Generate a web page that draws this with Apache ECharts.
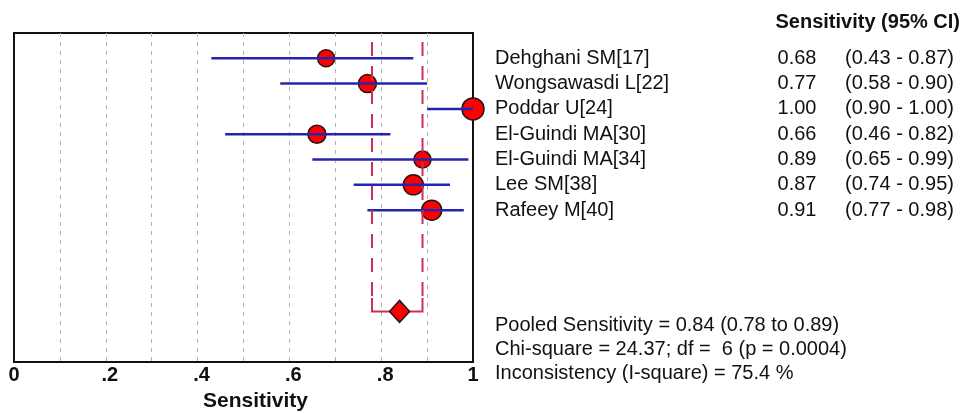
<!DOCTYPE html>
<html>
<head>
<meta charset="utf-8">
<script src="https://cdn.jsdelivr.net/npm/echarts@6/dist/echarts.min.js"></script>
<style>
  html, body { margin: 0; padding: 0; background: #ffffff; }
  #chart { width: 976px; height: 413px; }
</style>
</head>
<body>
<div id="chart"></div>
<script>
// Study-level sensitivity estimates with 95% confidence intervals
const studies = [
  'Dehghani SM[17]',
  'Wongsawasdi L[22]',
  'Poddar U[24]',
  'El-Guindi MA[30]',
  'El-Guindi MA[34]',
  'Lee SM[38]',
  'Rafeey M[40]'
];
const sensitivity = [0.68, 0.77, 1.00, 0.66, 0.89, 0.87, 0.91];
const ciLower     = [0.43, 0.58, 0.90, 0.46, 0.65, 0.74, 0.77];
const ciUpper     = [0.87, 0.90, 1.00, 0.82, 0.99, 0.95, 0.98];

// Pooled estimate and heterogeneity statistics
const pooledSensitivity = 0.84;
const pooledLower = 0.78;
const pooledUpper = 0.89;
const chiSquare = '24.37';
const degreesOfFreedom = 6;
const pValue = '0.0004';
const iSquare = '75.4';

// Axis tick labels for 0, 0.2, ..., 1
const xTickLabels = ['0', '.2', '.4', '.6', '.8', '1'];

// ---- presentation ----
const FONT = "'Liberation Sans', Arial, Helvetica, sans-serif";
const INK = '#111111';
const CI_BLUE = '#2424ae';
const POOL_RED = '#cf2f55';
const POOLED_ROW = 10;
const studyMarkerPx = [17, 18, 22, 18, 17, 20, 20];

const fmt = v => v.toFixed(2);

const chart = echarts.init(document.getElementById('chart'), null, { renderer: 'canvas' });

const option = {
  animation: false,
  backgroundColor: '#ffffff',
  textStyle: { fontFamily: FONT, color: INK },
  grid: {
    left: 14, top: 33, width: 459, height: 329,
    containLabel: false,
    outerBoundsMode: 'none',
    show: true, borderColor: INK, borderWidth: 2, backgroundColor: 'transparent'
  },
  xAxis: {
    type: 'value', min: 0, max: 1, interval: 0.1,
    axisLine: { show: false },
    axisTick: { show: false },
    splitLine: {
      show: true, showMinLine: false, showMaxLine: false,
      lineStyle: { color: '#b4b4b4', width: 1, type: [4, 5] }
    },
    axisLabel: {
      margin: 3,
      fontFamily: FONT, fontSize: 20, fontWeight: 'bold', color: INK,
      formatter: function (v) {
        const k = Math.round(v * 10);
        if (k % 2 !== 0) return '';
        const t = xTickLabels[k / 2];
        return t.charAt(0) === '.' ? '{d|' + t + '}' : t;
      },
      rich: {
        d: { fontFamily: FONT, fontSize: 20, fontWeight: 'bold', color: INK, padding: [0, 0, 0, 8] }
      }
    },
    name: 'Sensitivity',
    nameLocation: 'middle',
    nameGap: 29,
    nameTextStyle: { fontFamily: FONT, fontSize: 21, fontWeight: 'bold', color: INK, padding: [0, 0, 0, 24] }
  },
  yAxis: {
    type: 'value', min: -1, max: 12, interval: 1, inverse: true,
    position: 'right',
    axisLine: { show: false },
    axisTick: { show: false },
    splitLine: { show: false },
    axisLabel: {
      margin: 22,
      align: 'left',
      fontFamily: FONT, fontSize: 20, color: INK,
      formatter: function (v) {
        if (v < 0 || v >= studies.length) return '';
        return '{n|' + studies[v] + '}{v|' + fmt(sensitivity[v]) + '}{c|(' + fmt(ciLower[v]) + ' - ' + fmt(ciUpper[v]) + ')}';
      },
      rich: {
        n: { fontFamily: FONT, fontSize: 20, color: INK, width: 277, align: 'left' },
        v: { fontFamily: FONT, fontSize: 20, color: INK, width: 50, align: 'right' },
        c: { fontFamily: FONT, fontSize: 20, color: INK, padding: [0, 0, 0, 23] }
      }
    }
  },
  graphic: [
    {
      type: 'text', right: 16, top: 12,
      style: { text: 'Sensitivity (95% CI)', font: 'bold 20px ' + FONT, fill: INK }
    },
    {
      type: 'text', left: 495, top: 313,
      style: {
        text: [
          'Pooled Sensitivity = ' + fmt(pooledSensitivity) + ' (' + fmt(pooledLower) + ' to ' + fmt(pooledUpper) + ')',
          'Chi-square = ' + chiSquare + '; df =  ' + degreesOfFreedom + ' (p = ' + pValue + ')',
          'Inconsistency (I-square) = ' + iSquare + ' %'
        ].join('\n'),
        font: '20px ' + FONT, fill: INK, lineHeight: 24
      }
    }
  ],
  series: [
    {
      // study point estimates, sized by weight
      type: 'scatter',
      clip: false,
      z: 3,
      symbol: 'circle',
      data: sensitivity.map((s, i) => [s, i]),
      symbolSize: (val, params) => studyMarkerPx[params.dataIndex],
      itemStyle: { color: '#ff0000', opacity: 1, borderColor: '#2a1212', borderWidth: 1.5 }
    },
    {
      // study confidence intervals
      type: 'custom',
      z: 4,
      clip: false,
      encode: { x: [0, 1], y: 2 },
      data: studies.map((s, i) => [ciLower[i], ciUpper[i], i]),
      renderItem: function (params, api) {
        const a = api.coord([api.value(0), api.value(2)]);
        const b = api.coord([api.value(1), api.value(2)]);
        return {
          type: 'line',
          shape: { x1: a[0], y1: a[1], x2: b[0], y2: b[1] },
          style: { stroke: CI_BLUE, lineWidth: 2.5 }
        };
      }
    },
    {
      // pooled confidence bounds carried through the study rows
      type: 'custom',
      z: 5,
      clip: false,
      encode: { x: [0, 1] },
      data: [[pooledLower, pooledUpper]],
      renderItem: function (params, api) {
        const lo = api.value(0), hi = api.value(1);
        const topL = api.coord([lo, -0.64]);
        const midL = api.coord([lo, 9.47]);
        const botL = api.coord([lo, POOLED_ROW]);
        const topR = api.coord([hi, -0.64]);
        const midR = api.coord([hi, 9.47]);
        const botR = api.coord([hi, POOLED_ROW]);
        const dashed = { stroke: POOL_RED, lineWidth: 2, lineDash: [14, 10] };
        const solid = { stroke: POOL_RED, lineWidth: 2 };
        return {
          type: 'group',
          children: [
            { type: 'line', shape: { x1: topL[0], y1: topL[1], x2: midL[0], y2: midL[1] }, style: dashed },
            { type: 'line', shape: { x1: topR[0], y1: topR[1], x2: midR[0], y2: midR[1] }, style: dashed },
            { type: 'polyline', shape: { points: [midL, botL, botR, midR] }, style: Object.assign({ fill: null }, solid) }
          ]
        };
      }
    },
    {
      // pooled estimate
      type: 'scatter',
      z: 6,
      clip: false,
      symbol: 'diamond',
      symbolSize: [20, 22],
      data: [[pooledSensitivity, POOLED_ROW]],
      itemStyle: { color: '#ff0000', opacity: 1, borderColor: '#1a1a1a', borderWidth: 1.5 }
    }
  ]
};

chart.setOption(option);
</script>
</body>
</html>
